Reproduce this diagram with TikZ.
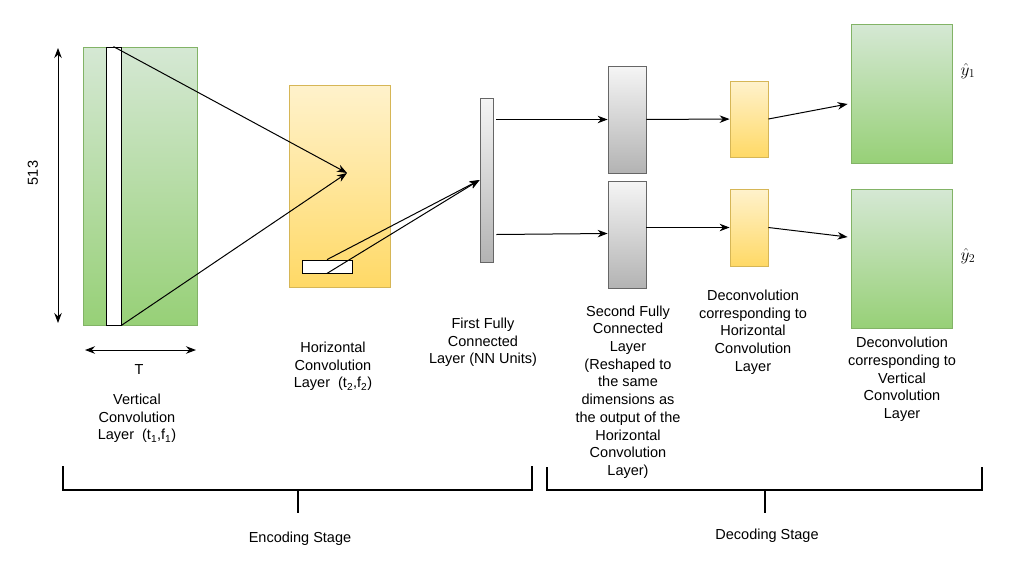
\documentclass[tikz,border=0pt]{standalone}
\usepackage{fontspec}
\setmainfont{Liberation Sans}
\usetikzlibrary{arrows.meta,calc}

\definecolor{greentop}{HTML}{D5E8D4}
\definecolor{greenbot}{HTML}{97D077}
\definecolor{greenline}{HTML}{82B366}
\definecolor{yellowtop}{HTML}{FFF2CC}
\definecolor{yellowbot}{HTML}{FFD966}
\definecolor{yellowline}{HTML}{D6B656}
\definecolor{graytop}{HTML}{F5F5F5}
\definecolor{graybot}{HTML}{B3B3B3}
\definecolor{grayline}{HTML}{666666}

\begin{document}
\begin{tikzpicture}[x=1pt,y=-1pt,
    box/.style={rectangle,inner sep=0pt,line width=0.8pt},
    greenbox/.style={box,draw=greenline,top color=greentop,bottom color=greenbot},
    yellowbox/.style={box,draw=yellowline,top color=yellowtop,bottom color=yellowbot},
    graybox/.style={box,draw=grayline,top color=graytop,bottom color=graybot},
    winbox/.style={box,draw=black,fill=white},
    caption/.style={align=center,inner sep=0pt,font=\fontsize{14.5}{17.7}\selectfont},
    >={Stealth[length=10pt,width=7.5pt]}]

        \useasboundingbox (0,0) rectangle (1011,581);

        % layers
        \node[greenbox,minimum width=114,minimum height=278] (vin) at (140,186) {};
        \node[winbox,minimum width=15,minimum height=278] (vstrip) at (113.5,186) {};
        \node[yellowbox,minimum width=101,minimum height=202] (hconv) at (339.5,186) {};
        \node[winbox,minimum width=50,minimum height=13] (hwin) at (327,266.5) {};
        \node[graybox,minimum width=13,minimum height=164] (fc1) at (486.5,180) {};
        \node[graybox,minimum width=38,minimum height=107] (fcA) at (627,119.5) {};
        \node[graybox,minimum width=38,minimum height=107] (fcB) at (627,234.5) {};
        \node[yellowbox,minimum width=38,minimum height=76] (dhA) at (749,119) {};
        \node[yellowbox,minimum width=38,minimum height=77] (dhB) at (749,227.5) {};
        \node[greenbox,minimum width=101,minimum height=139] (dvA) at (901.5,93.5) {};
        \node[greenbox,minimum width=101,minimum height=139] (dvB) at (901.5,258.5) {};

        \coordinate (focus) at (347,173);
        \coordinate (dimtop) at (58,48);
        \coordinate (dimbot) at (58,323);
        \coordinate (widL) at (85,350);
        \coordinate (widR) at (196,350);

        % labels
        \begin{scope}[every node/.style={caption}]
          \node[rotate=90] (dimlabel) at (33,173) {513};
          \node (widlabel) at (139,370) {T};
          \node (vlabel) at (137,418.5) {Vertical\\Convolution\\Layer\ \ (t\textsubscript{1},f\textsubscript{1})};
          \node (hlabel) at (333,366.5) {Horizontal\\Convolution\\Layer\ \ (t\textsubscript{2},f\textsubscript{2})};
          \node (fc1label) at (483,342.5) {First Fully\\Connected\\Layer (NN Units)};
          \node (fc2label) at (628,392) {Second Fully\\Connected\\Layer\\(Reshaped to\\the same\\dimensions as\\the output of the\\Horizontal\\Convolution\\Layer)};
          \node (dhlabel) at (753,332) {Deconvolution\\corresponding to\\Horizontal\\Convolution\\Layer};
          \node (dvlabel) at (902,379.5) {Deconvolution\\corresponding to\\Vertical\\Convolution\\Layer};
          \node (enclabel) at (300,539) {Encoding Stage};
          \node (declabel) at (767,536) {Decoding Stage};
          \node[font=\fontsize{18}{20}\selectfont] (yA) at (968,71) {$\hat{y}_1$};
          \node[font=\fontsize{18}{20}\selectfont] (yB) at (968,256) {$\hat{y}_2$};
        \end{scope}

        % connections
        \begin{scope}[line width=1pt]
          \draw[<->] (dimtop) -- (dimbot);
          \draw[<->] (widL) -- (widR);
          \draw[->] (vstrip.north) -- (focus);
          \draw[->] (vstrip.south east) -- (focus);
          \draw[->] (hwin.north) -- (fc1.west);
          \draw[->] (hwin.south) -- (fc1.west);
          \draw[->] ([xshift=3pt]fc1.east |- fcA) -- (fcA);
          \draw[->] ([xshift=3pt]fc1.east |- fcB.west) -- ([yshift=1pt]fcB.west);
          \draw[->] (fcA) -- (dhA);
          \draw[->] (fcB.east |- dhB) -- (dhB);
          \draw[->] (dhA.east) -- ($(dvA.west)+(-3,10.5)$);
          \draw[->] (dhB.east) -- ($(dvB.west)+(-3,-21.5)$);
        \end{scope}

        % stages
        \begin{scope}[line width=1.6pt]
          \draw (63,466) -- (63,490) -- (532,490) -- (532,466);
          \draw (298,490) -- (298,513);
          \draw (547,467) -- (547,490) -- (982,490) -- (982,467);
          \draw (765,490) -- (765,513);
        \end{scope}

\end{tikzpicture}
\end{document}
